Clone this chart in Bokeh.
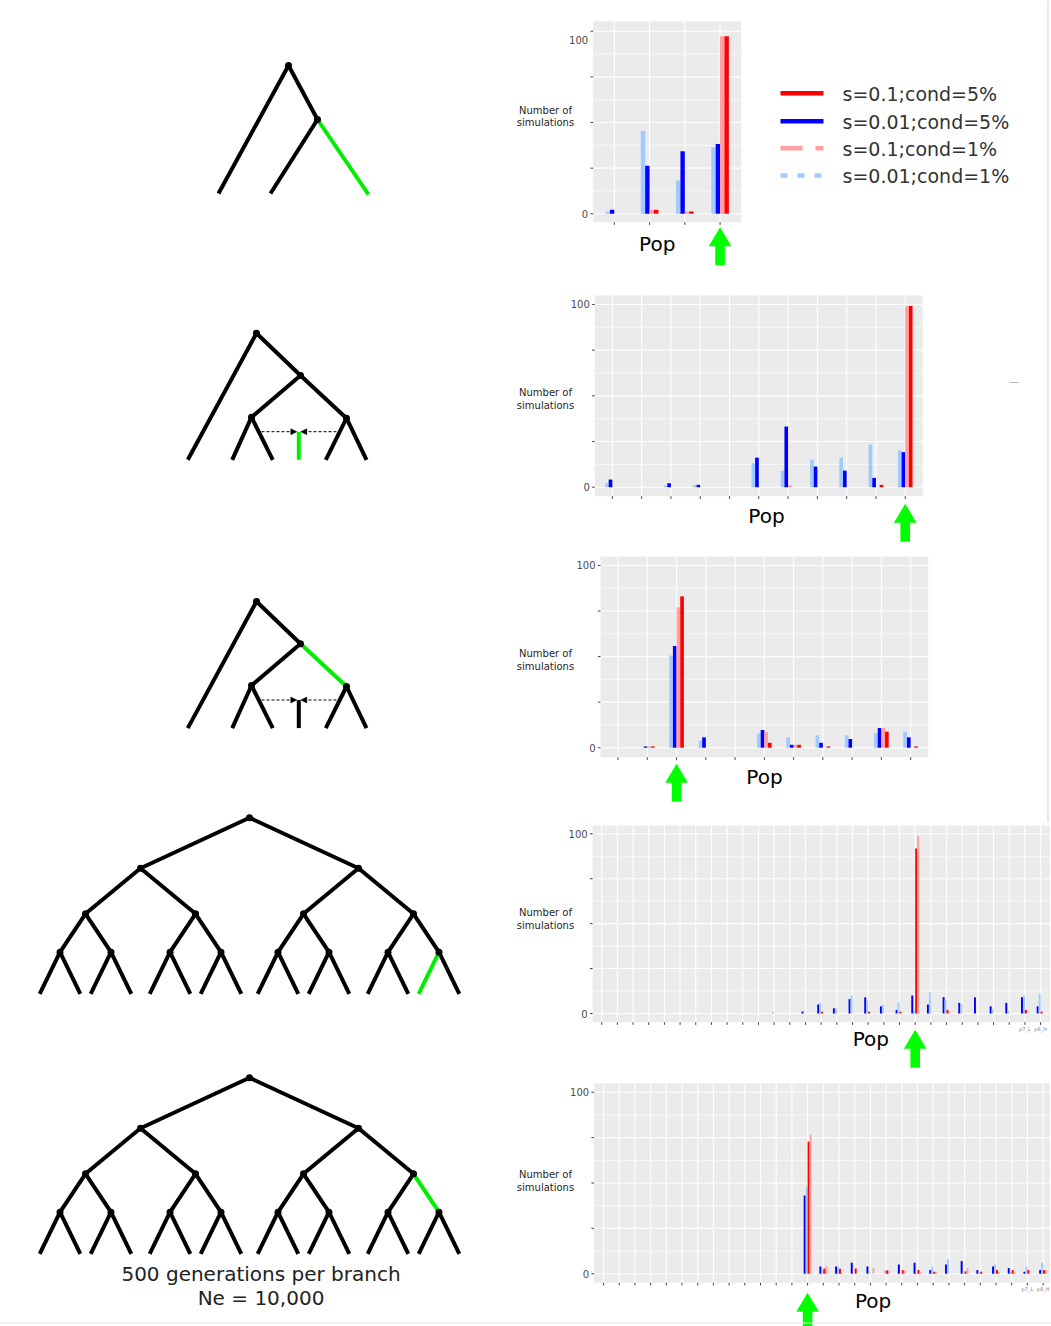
import numpy as np
from bokeh.plotting import figure
from bokeh.models import Range1d, Arrow, NormalHead
from bokeh.core.properties import value
from bokeh.embed import file_html
from bokeh.resources import INLINE

# ---------------- data ----------------
series_labels = ["s=0.1;cond=5%", "s=0.01;cond=5%", "s=0.1;cond=1%", "s=0.01;cond=1%"]

# panel 1 : 4 populations
a_s01_c5 = [0.0, 2.2, 1.3, 97.3]
a_s001_c5 = [2.2, 26.3, 34.3, 38.3]
a_s01_c1 = [0.0, 2.2, 1.3, 97.3]
a_s001_c1 = [1.3, 45.3, 18.2, 36.5]
a_labels = ["", "", "", ""]
a_target = 4

# panel 2 : 11 populations
b_s01_c5 = [0, 0, 0, 0, 0, 0, 0, 0, 0, 1.3, 99.1]
b_s001_c5 = [4.2, 0, 2.2, 1.3, 0, 16.2, 33.2, 11.3, 9.1, 5.1, 19.2]
b_s01_c1 = [0, 0, 0, 0, 0, 0, 1.1, 0, 0, 0, 99.1]
b_s001_c1 = [2.2, 0, 0.9, 1.3, 0, 13.1, 9.1, 15.1, 16.2, 23.4, 20.1]
b_labels = ["", "", "", "", "", "", "", "", "", "", ""]
b_target = 11

# panel 3 : 11 populations
c_s01_c5 = [0, 0.7, 83.0, 0, 0, 2.7, 1.6, 0.7, 0, 8.8, 0.7]
c_s001_c5 = [0, 0.7, 55.8, 5.7, 0, 9.7, 1.6, 2.7, 4.8, 10.8, 5.7]
c_s01_c1 = [0, 0.7, 77.0, 0, 0, 8.8, 1.6, 0, 0, 10.8, 0]
c_s001_c1 = [0, 0, 50.6, 3.8, 0, 7.9, 5.7, 6.8, 6.8, 7.9, 8.8]
c_labels = ["", "", "", "", "", "", "", "", "", "", ""]
c_target = 3

# panel 4 : 29 populations
d_s01_c5 = [0, 0, 0, 0, 0, 0, 0, 0, 0, 0, 0, 0, 0, 0, 1.0, 0, 0, 1.0, 0, 1.0,
            91.8, 0, 2.0, 0, 0, 0, 0, 2.0, 1.0]
d_s001_c5 = [0, 0, 0, 0, 0, 0, 0, 0, 0, 0, 0, 0, 0, 1.1, 5.0, 2.9, 8.0, 9.0, 4.0, 2.0,
             10.0, 5.0, 9.1, 5.9, 9.0, 4.0, 5.9, 9.1, 4.0]
d_s01_c1 = [0, 0, 0, 0, 0, 0, 0, 0, 0, 0, 0, 0, 0, 0, 0, 0, 0, 0, 0, 0,
            98.9, 0, 0.9, 0, 0, 0, 0, 0, 0]
d_s001_c1 = [0, 0, 0, 0, 0, 0, 0, 0, 0, 0, 0, 0.9, 0, 0, 5.9, 2.9, 9.9, 7.1, 4.9, 6.0,
             1.7, 11.8, 7.4, 5.1, 0, 2.3, 1.2, 10.0, 11.1]
d_labels = [""] * 27 + ["p7_L", "p8_H"]
d_target = 21

# panel 5 : 29 populations
e_s01_c5 = [0, 0, 0, 0, 0, 0, 0, 0, 0, 0, 0, 0, 0, 72.8, 2.8, 2.8, 2.9, 0, 1.8, 2.0,
            2.0, 1.1, 0, 1.3, 1.1, 2.0, 2.0, 2.0, 2.0]
e_s001_c5 = [0, 0, 0, 0, 0, 0, 0, 0, 0, 0, 0, 0, 0, 43.1, 4.0, 4.0, 6.1, 4.0, 0, 5.1,
             6.1, 2.0, 5.1, 7.0, 2.0, 4.0, 3.1, 1.1, 2.0]
e_s01_c1 = [0, 0, 0, 0, 0, 0, 0, 0, 0, 0, 0, 0, 0, 76.7, 4.0, 0.5, 0, 3.0, 1.8, 1.8,
            0.9, 0.9, 0, 3.0, 0, 1.0, 1.0, 0, 2.0]
e_s001_c1 = [0, 0, 0, 0, 0, 0, 0, 0, 0, 0, 0, 0, 0, 47.7, 2.0, 4.0, 0, 0.9, 1.8, 0,
             0.5, 4.0, 7.9, 1.0, 0.9, 5.1, 1.0, 4.0, 6.1]
e_labels = [""] * 27 + ["p7_L", "p8_H"]
e_target = 14

y_tick_values = [0, 25, 50, 75, 100]
y_tick_labels = {100: "100", 0: "0"}

# ---------------- styles ----------------
RED, BLUE, LRED, LBLUE = "#ff0000", "#0000ff", "#ffa0a0", "#a0cbff"
GREEN = "#00ee00"
PANEL = "#ebebeb"
FONT = value("DejaVu Sans")

W, H = 1051, 1326
p = figure(width=W, height=H, x_range=Range1d(0, W), y_range=Range1d(H, 0),
           output_backend="svg", toolbar_location=None, tools="",
           x_axis_location=None, y_axis_location=None, min_border=0,
           outline_line_color=None, background_fill_color="white",
           border_fill_color="white")
p.grid.visible = False

charts = [
    dict(vals=[a_s001_c1, a_s001_c5, a_s01_c1, a_s01_c5], cols=[LBLUE, BLUE, LRED, RED],
         labels=a_labels, target=a_target, xs=(0.4, 4.6), xt=(592.7, 740.7),
         ys=(-4.6, 105.5), yt=(221.7, 20.7), top_shift=8.6, tip=226.7, pop=(656.7, 243.5),
         nos=(110.0, 122.3)),
    dict(vals=[b_s001_c1, b_s001_c5, b_s01_c1, b_s01_c5], cols=[LBLUE, BLUE, LRED, RED],
         labels=b_labels, target=b_target, xs=(0.4, 11.6), xt=(594.3, 922.3),
         ys=(-4.9, 104.9), yt=(495.7, 295.0), top_shift=0, tip=503.3, pop=(766, 515.5),
         nos=(392.3, 404.8)),
    dict(vals=[c_s001_c1, c_s001_c5, c_s01_c1, c_s01_c5], cols=[LBLUE, BLUE, LRED, RED],
         labels=c_labels, target=c_target, xs=(0.4, 11.6), xt=(600.0, 927.7),
         ys=(-5.2, 104.9), yt=(756.7, 556.0), top_shift=0, tip=763.3, pop=(764, 776.3),
         nos=(652.7, 665.7)),
    dict(vals=[d_s001_c5, d_s001_c1, d_s01_c5, d_s01_c1], cols=[BLUE, LBLUE, RED, LRED],
         labels=d_labels, target=d_target, xs=(0.42, 29.6), xt=(592.1, 1049.5),
         ys=(-4.84, 104.6), yt=(1021.7, 825.0), top_shift=0, tip=1029.3, pop=(870.4, 1038.5),
         nos=(912.0, 924.5)),
    dict(vals=[e_s001_c5, e_s001_c1, e_s01_c5, e_s01_c1], cols=[BLUE, LBLUE, RED, LRED],
         labels=e_labels, target=e_target, xs=(0.4, 29.44), xt=(593.6, 1049.5),
         ys=(-5.0, 105.0), yt=(1282.3, 1082.7), top_shift=0, tip=1292.3, pop=(872.6, 1300.8),
         nos=(1173.7, 1186.7)),
]

BAR_W = 0.125
OFFS = [-1.5 * BAR_W, -0.5 * BAR_W, 0.5 * BAR_W, 1.5 * BAR_W]


def arrow_poly(x, ytip, length=38, head_h=19, head_hw=11.3, shaft_hw=4.8):
    xs = [x, x + head_hw, x + shaft_hw, x + shaft_hw, x - shaft_hw, x - shaft_hw, x - head_hw]
    ys = [ytip, ytip + head_h, ytip + head_h, ytip + length, ytip + length, ytip + head_h, ytip + head_h]
    return xs, ys


for ch in charts:
    lo, hi = ch["xs"]
    vlo, vhi = ch["ys"]
    xt0, xt1 = ch["xt"]
    yt0, yt1 = ch["yt"]
    sub = p.subplot(x_source=Range1d(lo, hi), y_source=Range1d(vlo, vhi),
                    x_target=Range1d(xt0, xt1), y_target=Range1d(yt0, yt1))
    ux = (hi - lo) / abs(xt1 - xt0)      # x units per pixel
    uy = (vhi - vlo) / abs(yt1 - yt0)    # y units per pixel
    n = len(ch["labels"])
    cats = np.arange(1, n + 1, dtype=float)

    sub.quad(left=[lo], right=[hi], bottom=[vlo], top=[vhi], fill_color=PANEL, line_color=None)
    minor = [12.5, 37.5, 62.5, 87.5]
    sub.segment(x0=[lo] * 4, x1=[hi] * 4, y0=minor, y1=minor, line_color="white", line_width=0.6)
    sub.segment(x0=[lo] * 5, x1=[hi] * 5, y0=y_tick_values, y1=y_tick_values,
                line_color="white", line_width=1.1)
    sub.segment(x0=cats, x1=cats, y0=[vlo] * n, y1=[vhi] * n, line_color="white", line_width=1.1)

    for k in range(4):
        sub.vbar(x=cats + OFFS[k], top=ch["vals"][k], bottom=0, width=BAR_W,
                 fill_color=ch["cols"][k], line_color=None)

    # axis ticks
    sub.segment(x0=[lo - 2.7 * ux] * 5, x1=[lo] * 5, y0=y_tick_values, y1=y_tick_values,
                line_color="#444444", line_width=1)
    sub.segment(x0=cats, x1=cats, y0=[vlo] * n, y1=[vlo - 2.7 * uy] * n,
                line_color="#444444", line_width=1)
    ty = [100 - ch["top_shift"] * uy, 0]
    sub.text(x=[lo, lo], y=ty, text=[y_tick_labels[100], y_tick_labels[0]], x_offset=-5,
             text_align="right", text_baseline="middle", text_font=FONT,
             text_font_size="10px", text_color="#4d4d4d")
    lab_idx = [i for i, s in enumerate(ch["labels"]) if s]
    if lab_idx:
        sub.text(x=[cats[i] for i in lab_idx], y=[vlo - 6.5 * uy] * len(lab_idx),
                 text=[ch["labels"][i] for i in lab_idx], text_align="center",
                 text_baseline="middle", text_font=FONT, text_font_size="5px",
                 text_color="#7f7f7f")

    # axis titles
    p.text(x=[545, 545], y=list(ch["nos"]), text=["Number of", "simulations"],
           text_align="center", text_baseline="middle", text_font=FONT,
           text_font_size="10px", text_color="#262626")
    p.text(x=[ch["pop"][0]], y=[ch["pop"][1]], text=["Pop"], text_align="center",
           text_baseline="alphabetic", text_font=FONT, text_font_size="20px",
           text_color="black")

    # green arrow under the selected population
    ax = xt0 + (ch["target"] - lo) / (hi - lo) * (xt1 - xt0)
    pxs, pys = arrow_poly(ax, ch["tip"])
    p.patch(pxs, pys, fill_color="#00ff00", line_color=None)

# ---------------- legend ----------------
leg_cols = [RED, BLUE, LRED, LBLUE]
leg_dash = ["solid", "solid", "22 13", "7 10"]
leg_y = [92.7, 120.7, 147.7, 175.0]
for lbl, col, dsh, yy in zip(series_labels, leg_cols, leg_dash, leg_y):
    p.line([780, 823], [yy, yy], line_color=col, line_width=4.5, line_dash=dsh)
    p.text(x=[842], y=[yy + 0.5], text=[lbl], text_align="left", text_baseline="middle",
           text_font=FONT, text_font_size="19px", text_color="#333333")

# ---------------- trees ----------------
TREE_W = 4


def draw_edges(edges, color="black"):
    if not edges:
        return
    p.segment(x0=[e[0][0] for e in edges], y0=[e[0][1] for e in edges],
              x1=[e[1][0] for e in edges], y1=[e[1][1] for e in edges],
              line_color=color, line_width=TREE_W)


def draw_nodes(nodes):
    p.scatter([n[0] for n in nodes], [n[1] for n in nodes], size=7, marker="circle",
              fill_color="black", line_color=None)


# tree 1
r1, n1 = (288, 65), (317, 119)
draw_edges([(r1, (218, 193)), (r1, n1), (n1, (270, 193))])
draw_edges([(n1, (368, 194))], GREEN)
draw_nodes([r1, n1])


# trees 2 and 3 (same topology)
def small_tree(dy, green_branch):
    root = (256, 332.7 + dy)
    A = (300, 375 + dy)
    B = (251, 416.7 + dy)
    C = (346, 417.7 + dy)
    ly = 459.3 + dy
    edges = [(root, (187.3, ly)), (root, A), (A, B), (B, (231.7, ly)), (B, (272.3, ly)),
             (C, (325.3, ly)), (C, (366, ly))]
    mid_top = (298.3, 431.2 + dy)
    mid_bot = (298.3, ly)
    greens = []
    if green_branch == "mid":
        greens.append((mid_top, mid_bot))
        edges.append((A, C))
    else:
        greens.append((A, C))
        edges.append((mid_top, mid_bot))
    draw_edges(edges)
    draw_edges(greens, GREEN)
    draw_nodes([root, A, B, C])
    yy = 431.2 + dy
    for xs, xe in [(261, 296.3), (336, 300.3)]:
        p.add_layout(Arrow(end=NormalHead(size=6, fill_color="black", line_color="black",
                                          line_width=0.5),
                           x_start=xs, y_start=yy, x_end=xe, y_end=yy,
                           line_dash="3 2", line_width=1, line_color="black"))


small_tree(0, "mid")
small_tree(268.3, "A")


# trees 4 and 5 : balanced 16-leaf trees
def big_tree(y_root, green):
    ys = [y_root, y_root + 50.4, y_root + 96, y_root + 134.4, y_root + 176]
    offs = [109, 55, 25.5, 20.3]
    levels = [[249.0]]
    for lv in range(4):
        nxt = []
        for x in levels[-1]:
            nxt += [x - offs[lv], x + offs[lv]]
        levels.append(nxt)
    edges, greens = [], []
    for lv in range(4):
        for i, x in enumerate(levels[lv]):
            for j in (0, 1):
                e = ((x, ys[lv]), (levels[lv + 1][2 * i + j], ys[lv + 1]))
                if (lv, 2 * i + j) == green:
                    greens.append(e)
                else:
                    edges.append(e)
    draw_edges(edges)
    draw_edges(greens, GREEN)
    nodes = [(x, ys[lv]) for lv in range(4) for x in levels[lv]]
    draw_nodes(nodes)


big_tree(817.3, (3, 14))
big_tree(1077.3, (2, 7))

p.text(x=[260.5, 260.5], y=[1273.5, 1297.5], text=["500 generations per branch", "Ne = 10,000"],
       text_align="center", text_baseline="middle", text_font=FONT,
       text_font_size="20px", text_color="#222222")

# frame lines of the original composite
p.segment(x0=[1009], y0=[382], x1=[1018], y1=[382], line_color="#bbbbbb", line_width=1)
p.segment(x0=[1047.5], y0=[0], x1=[1047.5], y1=[822], line_color="#d0d0d0", line_width=1)
p.segment(x0=[0], y0=[1322.5], x1=[1051], y1=[1322.5], line_color="#e4e4e4", line_width=1)

open("out.html", "w").write(file_html(p, INLINE))
